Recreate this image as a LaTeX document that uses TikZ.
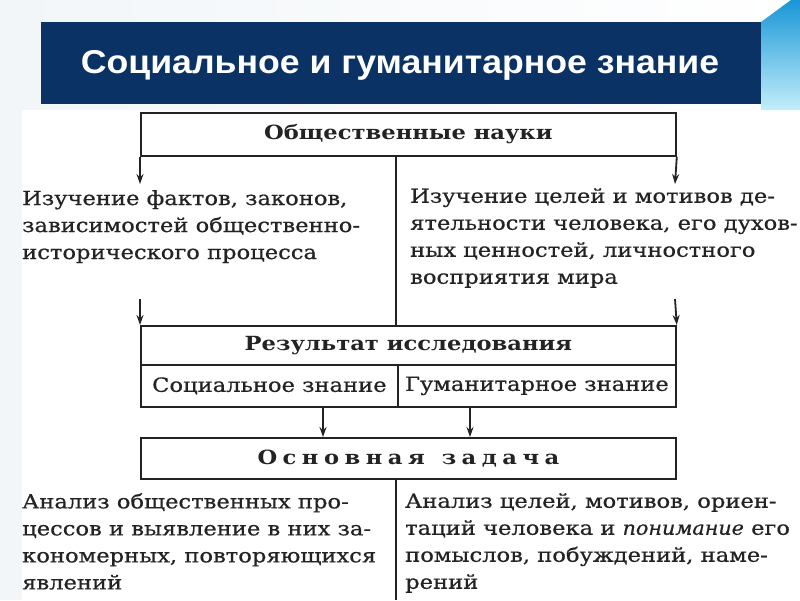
\documentclass[tikz,border=0pt]{standalone}
\usepackage{fontspec}
\setmainfont{DejaVu Serif}[FakeStretch=1.16]
\newfontfamily\bodyfont{DejaVu Serif}[FakeStretch=1.16, FakeBold=0.6]
\newfontfamily\itfont{DejaVu Serif Italic}[FakeStretch=1.06, FakeBold=0.6]
\newfontfamily\titlefont{Liberation Sans}[FakeStretch=1.08]
\usetikzlibrary{arrows.meta}
\definecolor{navy}{RGB}{10,50,100}
\definecolor{ink}{RGB}{35,35,35}
\definecolor{cyanA}{RGB}{25,150,215}
\definecolor{cyanB}{RGB}{195,238,250}
\definecolor{bgl}{RGB}{242,246,249}
\newcommand{\ls}{\hspace{5.5pt}}
\tikzset{
  box/.style={draw=ink, line width=1.8pt, rectangle, inner sep=0pt, anchor=north west, text=ink},
  conn/.style={draw=ink, line width=1.8pt},
  arr/.style={conn, -{Stealth[length=10pt,width=7pt]}},
  para/.style={anchor=north west, align=left, inner sep=0pt, text=ink, font=\bodyfont\fontsize{19.5}{27}\selectfont},
  headtxt/.style={font=\fontsize{19.5}{24}\selectfont\bfseries},
  rowtxt/.style={font=\bodyfont\fontsize{19.5}{24}\selectfont}
}
\begin{document}
\begin{tikzpicture}[x=1pt,y=-1pt]
\useasboundingbox (0,0) rectangle (800,600);
% background
\fill[bgl] (0,0) rectangle (800,600);
\shade[left color=bgl, right color=white] (0,0) rectangle (800,110);
\fill[white] (22,110) rectangle (800,600);
% cyan decoration
\shade[top color=cyanA, bottom color=cyanB] (761,22) -- (791,0) -- (800,0) -- (800,110) -- (761,110) -- cycle;
% title bar
\fill[navy] (41,22) rectangle (761,104);
\node[text=white, font=\titlefont\fontsize{33}{38}\selectfont\bfseries] (title) at (400,65) {Социальное и гуманитарное знание};
% top box
\node[box, minimum width=535pt, minimum height=43pt, headtxt] (top) at (140,112) {Общественные науки};
\coordinate (la) at (140,184);
\coordinate (ra) at (675,184);
\draw[arr] (top.south west) -- (la);
\draw[arr] (top.south east) -- (ra);
\coordinate (d1) at (396,155);
\coordinate (d2) at (396,325);
\draw[conn] (d1) -- (d2);
% middle texts
\node[para] (lt) at (22,190) {Изучение фактов, законов,\\зависимостей общественно-\\исторического процесса};
\node[para] (rt) at (410,188) {Изучение целей и мотивов де-\\ятельности человека, его духов-\\ных ценностей, личностного\\восприятия мира};
% result box
\coordinate (lb) at (140,299);
\coordinate (rb) at (675,299);
\node[box, minimum width=535pt, minimum height=39pt, headtxt] (res) at (140,325) {Результат исследования};
\draw[arr] (lb) -- (res.north west);
\draw[arr] (rb) -- (res.north east);
\node[box, minimum width=257pt, minimum height=42pt, rowtxt] (soc) at (140,364) {Социальное знание};
\node[box, minimum width=278pt, minimum height=42pt, rowtxt] (hum) at (397,364) {Гуманитарное знание};
% task box
\node[box, minimum width=535pt, minimum height=41pt, headtxt] (task) at (140,437) {О\ls с\ls н\ls о\ls в\ls н\ls а\ls я\hspace{17pt}з\ls а\ls д\ls а\ls ч\ls а};
\coordinate (s1) at (323,406);
\coordinate (h1) at (470,406);
\draw[arr] (s1) -- (s1 |- task.north);
\draw[arr] (h1) -- (h1 |- task.north);
\coordinate (d3) at (396,478);
\coordinate (d4) at (396,600);
\draw[conn] (d3) -- (d4);
% bottom texts
\node[para] (bl) at (22,493) {Анализ общественных про-\\цессов и выявление в них за-\\кономерных, повторяющихся\\явлений};
\node[para] (br) at (405,493) {Анализ целей, мотивов, ориен-\\таций человека и {\itfont понимание} его\\помыслов, побуждений, наме-\\рений};
\end{tikzpicture}
\end{document}
